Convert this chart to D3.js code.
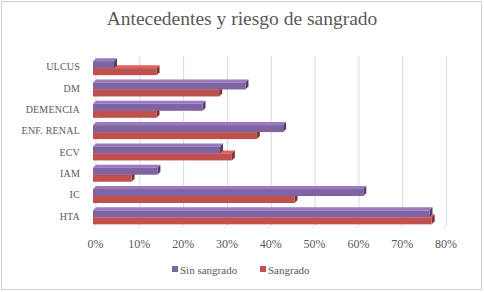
<!DOCTYPE html>
<html>
<head>
<meta charset="utf-8">
<script src="https://cdn.jsdelivr.net/npm/d3@7"></script>
<style>
  body { margin: 0; background: #fff; }
  text { font-family: "Liberation Serif", "DejaVu Serif", serif; fill: #595959; }
</style>
</head>
<body>
<svg width="484" height="292"></svg>
<script>
// antecedentes, de abajo hacia arriba como en Excel
const categories = ['HTA', 'IC', 'IAM', 'ECV', 'ENF. RENAL', 'DEMENCIA', 'DM', 'ULCUS'];
const sinSangrado = [0.768, 0.617, 0.147, 0.29, 0.434, 0.25, 0.348, 0.048];
const sangrado    = [0.773, 0.46, 0.088, 0.317, 0.374, 0.145, 0.288, 0.145];
const ticks = [0, 0.1, 0.2, 0.3, 0.4, 0.5, 0.6, 0.7, 0.8];
const seriesNames = ['Sin sangrado', 'Sangrado'];
const colors = ['#8064a2', '#c0504d'];

const svg = d3.select('svg');

// marco
svg.append('rect')
    .attr('x', 1.5).attr('y', 1.5)
    .attr('width', 480).attr('height', 288)
    .attr('fill', '#fff')
    .attr('stroke', '#d0d0d0');

svg.append('text')
    .attr('x', 242).attr('y', 25)
    .attr('text-anchor', 'middle')
    .style('font-size', '19.5px')
    .text('Antecedentes y riesgo de sangrado');

const x = d3.scaleLinear().domain([0, 0.8]).range([93, 443.5]);
const y = d3.scaleBand().domain(categories).range([227, 56.5]);

const dx = 3, dy = 3; // profundidad 3D

// rejilla en la pared del fondo
const grid = svg.append('g');
grid.selectAll('line.v')
    .data(ticks)
    .join('line')
    .attr('class', 'v')
    .attr('x1', d => x(d) + dx).attr('x2', d => x(d) + dx)
    .attr('y1', 56).attr('y2', 228 - dy)
    .attr('stroke', '#d9d9d9');
grid.selectAll('line.f')
    .data(ticks)
    .join('line')
    .attr('class', 'f')
    .attr('x1', d => x(d) + dx).attr('x2', d => x(d))
    .attr('y1', 228 - dy).attr('y2', 228)
    .attr('stroke', '#d9d9d9');

const xAxis = svg.append('g')
    .attr('transform', 'translate(0,236)')
    .call(d3.axisBottom(x).tickValues(ticks).tickFormat(d3.format('.0%')).tickSize(0));
xAxis.select('.domain').remove();
xAxis.selectAll('text')
    .style('font-size', '12px')
    .attr('fill', '#6a6a6a')
    .attr('dy', '0.71em')
    .attr('dx', '2');

const yAxis = svg.append('g')
    .attr('transform', 'translate(83,0)')
    .call(d3.axisLeft(y).tickSize(0));
yAxis.select('.domain').remove();
yAxis.selectAll('text')
    .style('font-size', '10px')
    .style('letter-spacing', '0.2px')
    .attr('fill', '#595959')
    .attr('dx', '0');

const barH = 7;
const rows = categories.map((c, i) => ({ c, v: [sinSangrado[i], sangrado[i]] }));

function drawBar(g, x0, x1, top, col) {
    const c = d3.color(col);
    // cara superior
    g.append('path')
        .attr('d', `M${x0},${top}L${x0 + dx},${top - dy}L${x1 + dx},${top - dy}L${x1},${top}Z`)
        .attr('fill', c.brighter(0.5));
    // cara lateral
    g.append('path')
        .attr('d', `M${x1},${top}L${x1 + dx},${top - dy}L${x1 + dx},${top + barH - dy}L${x1},${top + barH}Z`)
        .attr('fill', c.darker(1.2));
    // cara frontal
    g.append('rect')
        .attr('x', x0).attr('y', top)
        .attr('width', x1 - x0).attr('height', barH)
        .attr('fill', col);
}

const bars = svg.append('g');
// primero la serie de abajo (roja), luego la morada encima
[1, 0].forEach(s => {
    rows.forEach(r => {
        const mid = y(r.c) + y.bandwidth() / 2 + 1;
        const top = s === 0 ? mid - barH : mid;
        drawBar(bars, x(0), x(r.v[s]), top, colors[s]);
    });
});

// leyenda
const legend = svg.append('g').attr('transform', 'translate(172,270)');
const items = [{ n: seriesNames[0], c: colors[0], x: 0 }, { n: seriesNames[1], c: colors[1], x: 88 }];
items.forEach(it => {
    legend.append('rect')
        .attr('x', it.x).attr('y', -4)
        .attr('width', 6).attr('height', 6)
        .attr('fill', it.c);
    legend.append('text')
        .attr('x', it.x + 8).attr('y', 0)
        .attr('dy', '0.35em')
        .style('font-size', '11px')
        .text(it.n);
});
</script>
</body>
</html>
